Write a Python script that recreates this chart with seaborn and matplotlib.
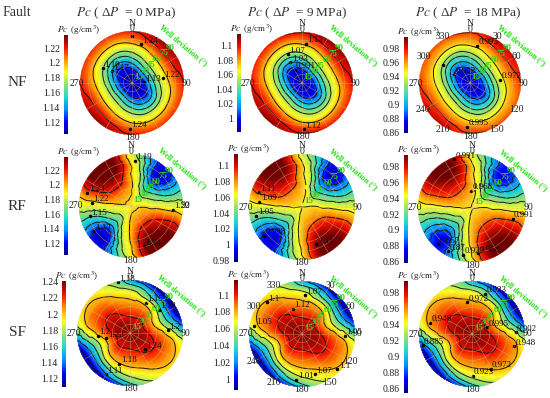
import numpy as np
import seaborn as sns
import matplotlib.pyplot as plt
import matplotlib.tri as mtri
from matplotlib.colors import LinearSegmentedColormap

# well azimuth (deg) of each table row, well deviation (deg) of each column
azimuths = [10, 40, 70, 100, 130, 160]
deviations = [15, 30, 45, 60, 75, 90]

# Pc, one row per azimuth, the other half mirrors through the centre
nf_0_center = 1.108
nf_0 = [[1.118, 1.148, 1.18, 1.21, 1.232, 1.242],
        [1.122, 1.162, 1.196, 1.222, 1.24, 1.25],
        [1.122, 1.158, 1.195, 1.222, 1.238, 1.245],
        [1.118, 1.145, 1.178, 1.208, 1.228, 1.238],
        [1.11, 1.125, 1.158, 1.195, 1.224, 1.238],
        [1.112, 1.132, 1.162, 1.195, 1.224, 1.238]]
nf_9_center = 0.988
nf_9 = [[0.998, 1.028, 1.06, 1.09, 1.112, 1.122],
        [1.002, 1.042, 1.076, 1.102, 1.12, 1.13],
        [1.002, 1.038, 1.075, 1.102, 1.118, 1.125],
        [0.998, 1.025, 1.058, 1.088, 1.108, 1.118],
        [0.99, 1.005, 1.038, 1.075, 1.104, 1.118],
        [0.992, 1.012, 1.042, 1.075, 1.104, 1.12]]
nf_18_center = 0.868
nf_18 = [[0.878, 0.907, 0.937, 0.966, 0.988, 0.997],
         [0.881, 0.92, 0.953, 0.978, 0.995, 1.005],
         [0.881, 0.916, 0.952, 0.978, 0.993, 1.0],
         [0.878, 0.904, 0.936, 0.964, 0.984, 0.993],
         [0.87, 0.884, 0.916, 0.95, 0.98, 0.993],
         [0.872, 0.891, 0.92, 0.95, 0.98, 0.995]]
rf_0_center = 1.215
rf_0 = [[1.217, 1.216, 1.212, 1.205, 1.195, 1.18],
        [1.205, 1.18, 1.155, 1.125, 1.113, 1.12],
        [1.21, 1.195, 1.18, 1.165, 1.16, 1.165],
        [1.22, 1.222, 1.225, 1.225, 1.225, 1.22],
        [1.222, 1.232, 1.243, 1.25, 1.255, 1.255],
        [1.222, 1.23, 1.24, 1.248, 1.252, 1.25]]
rf_9_center = 1.09
rf_9 = [[1.092, 1.091, 1.087, 1.08, 1.07, 1.055],
        [1.08, 1.055, 1.03, 1.0, 0.988, 0.995],
        [1.085, 1.07, 1.055, 1.04, 1.035, 1.04],
        [1.095, 1.097, 1.1, 1.1, 1.1, 1.095],
        [1.097, 1.107, 1.118, 1.125, 1.13, 1.13],
        [1.097, 1.105, 1.115, 1.123, 1.127, 1.125]]
rf_18_center = 0.971
rf_18 = [[0.973, 0.972, 0.968, 0.962, 0.952, 0.937],
         [0.962, 0.937, 0.913, 0.884, 0.873, 0.879],
         [0.966, 0.952, 0.937, 0.923, 0.918, 0.923],
         [0.976, 0.978, 0.981, 0.981, 0.981, 0.976],
         [0.978, 0.988, 0.998, 1.005, 1.01, 1.01],
         [0.978, 0.986, 0.995, 1.003, 1.007, 1.005]]
sf_0_center = 1.238
sf_0 = [[1.232, 1.222, 1.21, 1.195, 1.172, 1.135],
        [1.232, 1.224, 1.208, 1.185, 1.145, 1.112],
        [1.232, 1.218, 1.196, 1.17, 1.142, 1.115],
        [1.235, 1.23, 1.22, 1.21, 1.2, 1.185],
        [1.237, 1.232, 1.226, 1.216, 1.206, 1.195],
        [1.235, 1.226, 1.214, 1.203, 1.19, 1.175]]
sf_9_center = 1.115
sf_9 = [[1.11, 1.1, 1.088, 1.073, 1.051, 1.015],
        [1.11, 1.102, 1.086, 1.064, 1.024, 0.992],
        [1.11, 1.096, 1.074, 1.049, 1.021, 0.995],
        [1.112, 1.108, 1.098, 1.088, 1.078, 1.064],
        [1.114, 1.11, 1.104, 1.094, 1.084, 1.073],
        [1.112, 1.104, 1.092, 1.081, 1.068, 1.054]]
sf_18_center = 0.992
sf_18 = [[0.986, 0.976, 0.963, 0.947, 0.923, 0.884],
         [0.986, 0.978, 0.961, 0.937, 0.895, 0.86],
         [0.986, 0.971, 0.948, 0.921, 0.892, 0.863],
         [0.989, 0.984, 0.974, 0.963, 0.953, 0.937],
         [0.991, 0.986, 0.98, 0.969, 0.959, 0.947],
         [0.989, 0.98, 0.967, 0.956, 0.942, 0.926]]

# contour lines
lines_nf_0 = [1.13, 1.15, 1.17, 1.19, 1.22, 1.24]
lines_nf_9 = [1.01, 1.03, 1.05, 1.07, 1.1, 1.12]
lines_nf_18 = [0.891, 0.91, 0.93, 0.947, 0.972, 0.995]
lines_rf_0 = [1.13, 1.15, 1.17, 1.19, 1.22, 1.24]
lines_rf_9 = [1.005, 1.025, 1.045, 1.065, 1.09, 1.11]
lines_rf_18 = [0.89, 0.91, 0.93, 0.947, 0.972, 0.991]
lines_sf_0 = [1.12, 1.14, 1.16, 1.18, 1.2, 1.225]
lines_sf_9 = [1.0, 1.02, 1.04, 1.06, 1.078, 1.103]
lines_sf_18 = [0.87, 0.89, 0.91, 0.93, 0.953, 0.979]

# contour labels: azimuth, deviation, text
notes_nf_0 = [(0, 81, ''), (13, 69, '1.24'), (297, 56, '1.19'), (301, 40, '1.17'), (85, 21, '1.13'),
              (81, 54, '1.22'), (183, 79, '1.24')]
notes_nf_9 = [(6, 70, '1.12'), (178, 82, '1.12'), (334, 56, '1.07'), (331, 42, '1.03'), (331, 27, '0.991')]
notes_nf_18 = [(11, 67, '0.995'), (84, 53, '0.972'), (303, 57, ''), (298, 32, '0.903'), (184, 77, '0.995')]
notes_rf_0 = [(5, 79, '1.19'), (287, 79, '1.24'), (275, 68, '1.22'), (256, 74, '1.15'), (236, 78, '1.13'),
              (95, 73, '1.22'), (162, 73, '1.24')]
notes_rf_9 = [(289, 77, '1.11'), (277, 73, '1.09'), (259, 79, '1.05'), (233, 81, '0.998'), (159, 68, '1.11')]
notes_rf_18 = [(340, 87, '0.991'), (358, 29, '0.968'), (105, 70, '0.991'), (223, 82, '0.857'),
               (209, 82, '0.87'), (191, 79, '0.922'), (172, 76, '0.968')]
notes_sf_0 = [(347, 89, '1.18'), (27, 58, '1.15'), (51, 63, '1.13'), (86, 64, '1.2'), (265, 55, '1.2'),
              (258, 41, '1.22'), (137, 37, '1.24'), (199, 55, '1.18'), (210, 81, '1.11')]
notes_sf_9 = [(4, 66, '1.07'), (312, 81, '1.1'), (340, 46, '1.12'), (280, 82, '1.05'), (92, 73, '1.05'),
              (135, 85, '1.1'), (162, 72, '1.07'), (187, 78, '1.01')]
notes_sf_18 = [(18, 72, '0.923'), (351, 55, '0.972'), (285, 74, '0.948'), (66, 28, '0.995'), (88, 74, '0.902'),
               (106, 74, '0.948'), (257, 86, '0.885'), (152, 67, '0.972'), (179, 71, '0.923')]

# colour bar ranges and tick labels
bar_nf_0 = (1.104, 1.2376, [1.12, 1.14, 1.16, 1.18, 1.2, 1.22])
bar_nf_9 = (0.981, 1.116, [1, 1.02, 1.04, 1.06, 1.08, 1.1])
bar_nf_18 = (0.859, 0.996, [0.86, 0.88, 0.9, 0.92, 0.94, 0.96, 0.98])
bar_rf_0 = (1.104, 1.238, [1.12, 1.14, 1.16, 1.18, 1.2, 1.22])
bar_rf_9 = (0.978, 1.115, [0.98, 1, 1.02, 1.04, 1.06, 1.08, 1.1])
bar_rf_18 = (0.858, 0.995, [0.86, 0.88, 0.9, 0.92, 0.94, 0.96, 0.98])
bar_sf_0 = (1.11, 1.241, [1.12, 1.14, 1.16, 1.18, 1.2, 1.22, 1.24])
bar_sf_9 = (0.987, 1.118, [1, 1.02, 1.04, 1.06, 1.08, 1.1])
bar_sf_18 = (0.855, 0.995, [0.86, 0.88, 0.9, 0.92, 0.94, 0.96, 0.98])

pressures = [0, 9, 18]
faults = ['NF', 'RF', 'SF']
sparse = [0, 90, 180, 270]
full = list(range(0, 360, 30))

sns.set_style('white')
plt.rcParams['font.family'] = ['Liberation Serif', 'DejaVu Sans']
plt.rcParams['mathtext.fontset'] = 'stix'

colors = ['#00007f', '#0000ff', '#0090ff', '#20d8d0', '#90e070', '#ffff20', '#ff9000', '#f01000', '#6f0000']
jetish = sns.blend_palette(colors, n_colors=256, as_cmap=True)
# NF and RF maps sit higher in the palette than their bars say, so they get their own stops
stops = [0, 0.137, 0.275, 0.412, 0.549, 0.725, 0.836, 0.918, 1]
jet_nf = LinearSegmentedColormap.from_list('jet_nf', list(zip(stops, colors)), N=256)

W, H = 550, 398
fig = plt.figure(figsize=(5.5, 3.98), dpi=100)


def draw_panel(cx, cy, R, table, center, lines, notes, bar, bar_box, az_labels, cmap=jet_nf, top=1.12):
    ax = fig.add_axes([(cx - R) / W, 1 - (cy + R) / H, 2 * R / W, 2 * R / H], projection='polar')
    ax.set_theta_zero_location('N')
    ax.set_theta_direction(-1)

    az = np.array(azimuths + [a + 180 for a in azimuths] + [azimuths[0] + 360])
    rows = np.vstack([table, table, table[0]])
    dev = np.array([0] + deviations)
    z = np.column_stack([np.full(len(az), center), rows])
    th, rr = np.meshgrid(np.deg2rad(az), dev, indexing='ij')
    tri = mtri.Triangulation(th.ravel(), rr.ravel())
    interp = mtri.CubicTriInterpolator(tri, z.ravel(), kind='geom')
    fine, fine_z = mtri.UniformTriRefiner(tri).refine_field(z.ravel(), interp, subdiv=3)

    vmax = bar[0] + top * (bar[1] - bar[0])
    ax.tricontourf(fine, fine_z, levels=np.linspace(bar[0], vmax, 150), cmap=cmap,
                   extend='both', antialiased=False)
    ax.tricontour(fine, fine_z, levels=lines, colors='#151510', linewidths=0.7)

    ax.set_ylim(0, 90)
    ax.set_yticks(deviations)
    ax.set_yticklabels([])
    ax.set_xticks(np.deg2rad(full))
    ax.set_xticklabels([])
    ax.grid(True, color='#d8c080', lw=0.4, alpha=0.6)
    ax.set_axisbelow(False)
    ax.spines['polar'].set_visible(False)

    for a in az_labels:
        ax.text(np.deg2rad(a), 95, str(a), fontsize=7, ha='center', va='center', color='#222222', clip_on=False)
    for d in deviations:
        ax.text(np.deg2rad(47), d, str(d), fontsize=6.5, ha='center', va='center', color='#30d020',
                fontweight='bold', clip_on=False)
    for t, d, s in notes:
        ax.plot(np.deg2rad(t), d, 'o', ms=1.5, color='black')
        if s:
            ax.annotate(s, (np.deg2rad(t), d), xytext=(1, 1), textcoords='offset points',
                        fontsize=6.5, color='#111111', annotation_clip=False)

    fig.text(cx / W, 1 - (cy - R - 8) / H, 'N', fontsize=7, ha='center', va='center', color='#222222')
    fig.text((cx + 51) / W, 1 - (cy - 38) / H, 'Well deviation (°)', color='#20e010', fontsize=5.8,
             fontweight='bold', rotation=-40, ha='center', va='center')

    # colour bar through a one column heatmap
    x0, y0, x1, y1 = bar_box
    cax = fig.add_axes([x0 / W, 1 - y1 / H, (x1 - x0) / W, (y1 - y0) / H])
    ramp = np.linspace(bar[1], bar[0], 256).reshape(-1, 1)
    sns.heatmap(ramp, ax=cax, cmap=jetish, cbar=False, vmin=bar[0], vmax=bar[1],
                xticklabels=False, yticklabels=False)
    cax.set_yticks([(bar[1] - v) / (bar[1] - bar[0]) * 256 for v in bar[2]])
    cax.set_yticklabels([f'{v:g}' for v in bar[2]], fontsize=7, color='#222222', rotation=0)
    cax.tick_params(axis='y', length=0, pad=3)
    fig.text((x0 - 7) / W, 1 - (y0 - 5) / H, r'$Pc$  (g/cm$^3$)', fontsize=6.5, va='center', color='#222222')


draw_panel(132, 83, 52, nf_0, nf_0_center, lines_nf_0, notes_nf_0, bar_nf_0, (64, 35, 68, 134), sparse)
draw_panel(302, 83, 51, nf_9, nf_9_center, lines_nf_9, notes_nf_9, bar_nf_9, (237, 34, 241, 132), sparse)
draw_panel(470, 83, 51, nf_18, nf_18_center, lines_nf_18, notes_nf_18, bar_nf_18, (404, 37, 408, 133), full)
draw_panel(131, 206, 52, rf_0, rf_0_center, lines_rf_0, notes_rf_0, bar_rf_0, (64, 157, 68, 255), sparse)
draw_panel(302, 207, 53, rf_9, rf_9_center, lines_rf_9, notes_rf_9, bar_rf_9, (234, 154, 238, 262), sparse)
draw_panel(472, 208, 54, rf_18, rf_18_center, lines_rf_18, notes_rf_18, bar_rf_18, (404, 155, 408, 263), sparse)
draw_panel(130, 333, 53, sf_0, sf_0_center, lines_sf_0, notes_sf_0, bar_sf_0, (62, 281, 66, 387), sparse, jetish, 1)
draw_panel(302, 334, 53, sf_9, sf_9_center, lines_sf_9, notes_sf_9, bar_sf_9, (234, 280, 238, 390), full, jetish, 1)
draw_panel(472, 334, 53, sf_18, sf_18_center, lines_sf_18, notes_sf_18, bar_sf_18, (404, 281, 408, 393), sparse, jetish, 1)

for x, p in zip([126, 297, 468], pressures):
    fig.text(x / W, 1 - 13 / H, rf'$Pc$ ( Δ$P$  = {p} MPa)', fontsize=9.5, ha='center', va='center', color='#333333')
fig.text(17 / W, 1 - 13 / H, 'Fault', fontsize=10, ha='center', va='center', color='#333333')
for y, f in zip([82, 207, 332], faults):
    fig.text(17 / W, 1 - y / H, f, fontsize=11, ha='center', va='center', color='#333333')

fig.savefig('out.png', dpi=100)
